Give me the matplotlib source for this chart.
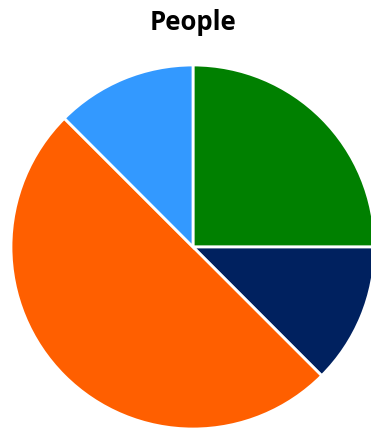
import matplotlib
matplotlib.use("Agg")
import matplotlib.pyplot as plt

labels = ["Green", "Navy", "Orange", "Blue"]
values = [2, 1, 4, 1]
colors = ["#008000", "#00215F", "#FF5F00", "#3399FF"]

fig = plt.figure(figsize=(3.71, 4.32), dpi=100)
# pie centred at (193, 247) px, radius ~182 px
cx, cy, r = 193, 247, 182
ax = fig.add_axes([(cx - r) / 371, (432 - cy - r) / 432, 2 * r / 371, 2 * r / 432])
ax.pie(values, colors=colors, startangle=90, counterclock=False,
       wedgeprops=dict(edgecolor="white", linewidth=2), radius=1)
ax.set_xlim(-1, 1)
ax.set_ylim(-1, 1)
ax.set_aspect("equal")
ax.axis("off")

fig.text(cx / 371, 1 - 23 / 432, "People", ha="center", va="center",
         fontsize=18.5, fontweight="bold", family=["Open Sans", "DejaVu Sans"])

plt.savefig("out.png", dpi=100, facecolor="white")
